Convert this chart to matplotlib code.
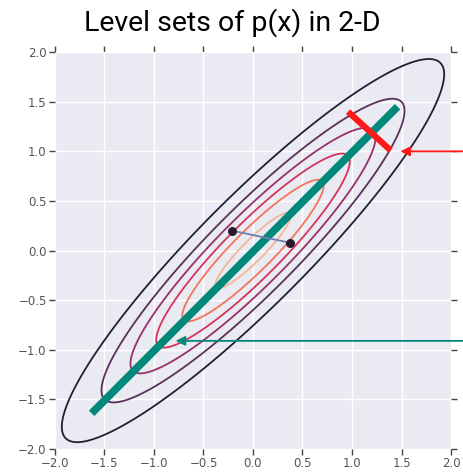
import numpy as np
import matplotlib
matplotlib.use("Agg")
import matplotlib.pyplot as plt
import seaborn as sns

# Gaussian p(x): mean and covariance
mean = [0.0, 0.0]
cov = [[1.0, 0.92], [0.92, 1.0]]
# contour levels as fraction of the peak density
level_fracs = [0.155, 0.31, 0.465, 0.62, 0.775, 0.93]

# principal axis (green) and cross section (red)
major_x = [-1.63, 1.46]
major_y = [-1.64, 1.45]
minor_x = [0.96, 1.39]
minor_y = [1.40, 1.01]

# two sample points joined by a line
pts_x = [-0.21, 0.37]
pts_y = [0.20, 0.08]

# arrows coming in from the right edge: (tip x, y)
red_arrow = (1.46, 1.0)
teal_arrow = (-0.81, -0.91)

ticks = [-2.0, -1.5, -1.0, -0.5, 0.0, 0.5, 1.0, 1.5, 2.0]
tick_labels = ["\u22122.0", "\u22121.5", "\u22121.0", "\u22120.5", "0.0", "0.5", "1.0", "1.5", "2.0"]

teal = "#00897b"
red = "#ff1a1a"

fig = plt.figure(figsize=(4.64, 4.74), dpi=100)
ax = fig.add_axes([0.1185, 0.0527, 0.8535, 0.8373])
ax.set_facecolor("#eaeaf2")
for s in ax.spines.values():
    s.set_visible(False)
ax.grid(True, color="white", linewidth=1.0)
ax.set_axisbelow(True)

g = np.linspace(-2.2, 2.2, 500)
X, Y = np.meshgrid(g, g)
P = np.stack([X - mean[0], Y - mean[1]], axis=-1)
inv = np.linalg.inv(np.array(cov))
q = np.einsum("...i,ij,...j->...", P, inv, P)
Z = np.exp(-q / 2)

rocket = sns.color_palette("rocket", as_cmap=True)
cols = rocket(np.linspace(0.03, 0.85, len(level_fracs)))
ax.contour(X, Y, Z, levels=level_fracs, colors=cols, linewidths=1.3, alpha=0.9)

ax.plot(major_x, major_y, color=teal, linewidth=5.5, solid_capstyle="butt", zorder=4)
ax.plot(minor_x, minor_y, color=red, linewidth=4.5, solid_capstyle="butt", zorder=5)

ax.plot(pts_x, pts_y, color="#6f7fb0", linewidth=1.3, zorder=6)
ax.scatter(pts_x, pts_y, s=30, color="#2b1a2e", zorder=7)

ax.annotate("", xy=red_arrow, xytext=(2.15, red_arrow[1]),
            arrowprops=dict(arrowstyle="-|>", color=red, lw=1.3, mutation_scale=14),
            annotation_clip=False, zorder=8)
ax.annotate("", xy=teal_arrow, xytext=(2.15, teal_arrow[1]),
            arrowprops=dict(arrowstyle="-|>", color=teal, lw=1.3, mutation_scale=14),
            annotation_clip=False, zorder=8)

ax.set_xlim(-2, 2)
ax.set_ylim(-2, 2)
ax.set_xticks(ticks)
ax.set_yticks(ticks)
ax.set_xticklabels(tick_labels)
ax.set_yticklabels(tick_labels)
ax.tick_params(direction="out", length=4, width=1, color="#444444",
               labelcolor="#555555", labelsize=8.5, pad=2,
               top=True, right=True)

fig.text(0.5, 0.952, "Level sets of p(x) in 2-D", ha="center", va="center",
         fontsize=20.5, family=["Roboto", "DejaVu Sans"], color="black")

fig.savefig("out.png", dpi=100)
